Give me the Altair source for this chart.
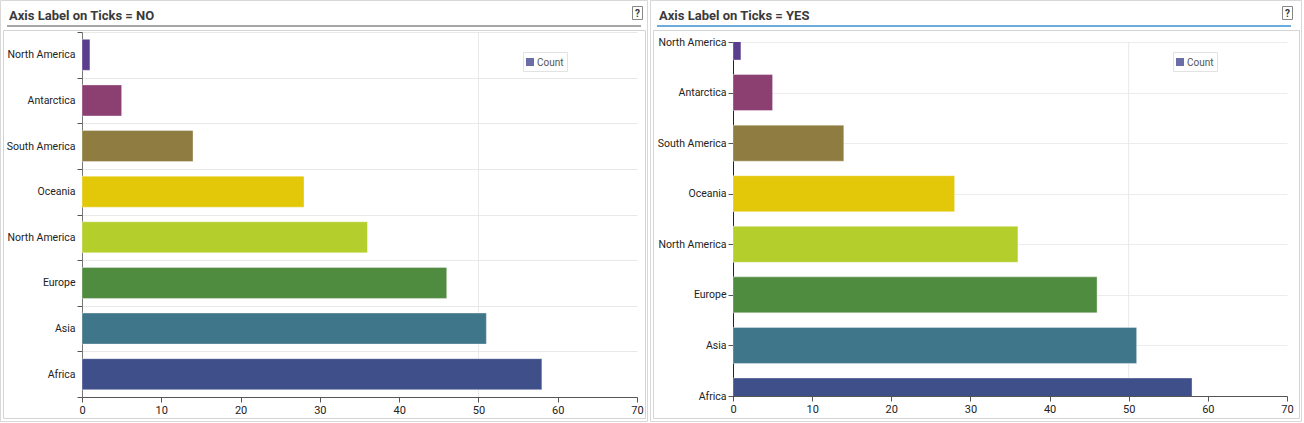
import altair as alt
import pandas as pd

categories = ["North America", "Antarctica", "South America", "Oceania",
              "North America", "Europe", "Asia", "Africa"]
values = [1, 5, 14, 28, 36, 46, 51, 58]
colors = ["#5a3e8e", "#8c4072", "#8e7c40", "#e3c80a",
          "#b4ce2c", "#508c40", "#3f768a", "#3f4f8a"]
x_ticks = [0, 10, 20, 30, 40, 50, 60, 70]
titles = ["Axis Label on Ticks = NO", "Axis Label on Ticks = YES"]
legend_label = "Count"
legend_color = "#6b6ea6"

df = pd.DataFrame({"key": list(range(len(categories))), "value": values, "color": colors})
one = pd.DataFrame({"a": [0]})

label_expr = "[" + ",".join("'" + c + "'" for c in categories) + "][datum.value]"
FONT = "Roboto"
TFONT = "Roboto"


def decorations(ox, oy, title, underline_color):
    """Frame, title, underline, help box and legend, in view coords (origin ox, oy on canvas)."""
    def vx(c):
        return c - ox

    def vy(c):
        return c - oy

    outer_l = 0.5 if ox < 640 else 650.5
    outer_r = 647.5 if ox < 640 else 1301.5
    inner_l = outer_l + 3
    inner_r = outer_r - 2
    base_x = 0 if ox < 640 else 650
    layers = [
        alt.Chart(one).mark_rect(fill=None, stroke="#d8d8d8", strokeWidth=1).encode(
            x=alt.value(vx(outer_l)), x2=alt.value(vx(outer_r)),
            y=alt.value(vy(0.5)), y2=alt.value(vy(421.5))),
        alt.Chart(one).mark_rect(fill=None, stroke="#d4d4d4", strokeWidth=1).encode(
            x=alt.value(vx(inner_l)), x2=alt.value(vx(inner_r)),
            y=alt.value(vy(30.5)), y2=alt.value(vy(418.5))),
        alt.Chart(one).mark_text(align="left", baseline="alphabetic", font=TFONT,
                                 fontSize=13, fontWeight="bold", color="#3a3a3a").encode(
            x=alt.value(vx(base_x + 9)), y=alt.value(vy(20)), text=alt.value(title)),
        alt.Chart(one).mark_rule(color=underline_color, strokeWidth=1.5).encode(
            x=alt.value(vx(base_x + 7)), x2=alt.value(vx(base_x + 641)), y=alt.value(vy(26))),
        alt.Chart(one).mark_rect(fill="white", stroke="#888", strokeWidth=1).encode(
            x=alt.value(vx(base_x + 632.5)), x2=alt.value(vx(base_x + 642.5)),
            y=alt.value(vy(6.5)), y2=alt.value(vy(19.5))),
        alt.Chart(one).mark_text(align="center", baseline="middle", font=FONT,
                                 fontSize=10, fontWeight="bold", color="#333").encode(
            x=alt.value(vx(base_x + 637.5)), y=alt.value(vy(13.5)), text=alt.value("?")),
        alt.Chart(one).mark_rect(fill="white", stroke="#e2e2e2", strokeWidth=1).encode(
            x=alt.value(vx(base_x + 523.5)), x2=alt.value(vx(base_x + 567.5)),
            y=alt.value(vy(52.5)), y2=alt.value(vy(71.5))),
        alt.Chart(one).mark_rect(fill=legend_color).encode(
            x=alt.value(vx(base_x + 526)), x2=alt.value(vx(base_x + 534)),
            y=alt.value(vy(58)), y2=alt.value(vy(66))),
        alt.Chart(one).mark_text(align="left", baseline="middle", font=FONT,
                                 fontSize=10, color="#555").encode(
            x=alt.value(vx(base_x + 537)), y=alt.value(vy(62.5)), text=alt.value(legend_label)),
    ]
    return layers


x_enc = alt.X("value:Q", scale=alt.Scale(domain=[0, 70], nice=False, zero=True),
              axis=alt.Axis(values=x_ticks, grid=False, title=None, tickSize=5,
                            labelFont=FONT, labelFontSize=11, labelColor="#222",
                            labelPadding=2, domainColor="#555", tickColor="#555",
                            labelFlush=False))

# ---------- left panel ----------
y_left = alt.Y("key:O", scale=alt.Scale(paddingInner=0, paddingOuter=0),
               axis=alt.Axis(title=None, labelExpr=label_expr, tickBand="extent",
                             grid=True, gridColor="#e8e8e8", domainColor="#777",
                             tickColor="#555", tickSize=5, labelPadding=2,
                             labelFont=FONT, labelFontSize=10.5, labelColor="#222"))

rule50_l = alt.Chart(one).mark_rule(color="#e8e8e8").encode(x=alt.datum(50))
bars_l = alt.Chart(df).mark_bar(height=alt.RelativeBandSize(0.68), stroke="white",
                                strokeOpacity=0.35, strokeWidth=1).encode(
    x=x_enc, y=y_left, color=alt.Color("color:N", scale=None))

left = alt.layer(*decorations(82, 32, titles[0], "#8a8a8a"), rule50_l, bars_l).properties(
    width=555, height=365)

# ---------- right panel ----------
y_right = alt.Y("key:O", scale=alt.Scale(type="point", padding=0),
                axis=alt.Axis(title=None, labelExpr=label_expr,
                              grid=True, gridColor="#ececec", domainColor="#222",
                              tickColor="#555", tickSize=5, labelPadding=2,
                              labelFont=FONT, labelFontSize=10.5, labelColor="#222"))
rule50_r = alt.Chart(one).mark_rule(color="#e8e8e8").encode(x=alt.datum(50))
bars_r = alt.Chart(df).mark_bar(size=36, clip=True, stroke="white",
                                strokeOpacity=0.35, strokeWidth=1).encode(
    x=x_enc, y=y_right, color=alt.Color("color:N", scale=None))

right = alt.layer(*decorations(733, 42, titles[1], "#3b8fd1"), rule50_r, bars_r).properties(
    width=554, height=354)

spacer = alt.Chart(one).mark_point(opacity=0).encode(
    x=alt.value(0), y=alt.value(0)).properties(width=554, height=10)

right_col = alt.vconcat(spacer, right, spacing=0, bounds="flush")

chart = alt.hconcat(left, right_col, spacing=96, bounds="flush").properties(
    padding=0, background="white"
).configure_view(stroke=None).resolve_scale(x="independent", y="independent")

chart.save("out.html", embed_options={"renderer": "svg", "actions": False})
